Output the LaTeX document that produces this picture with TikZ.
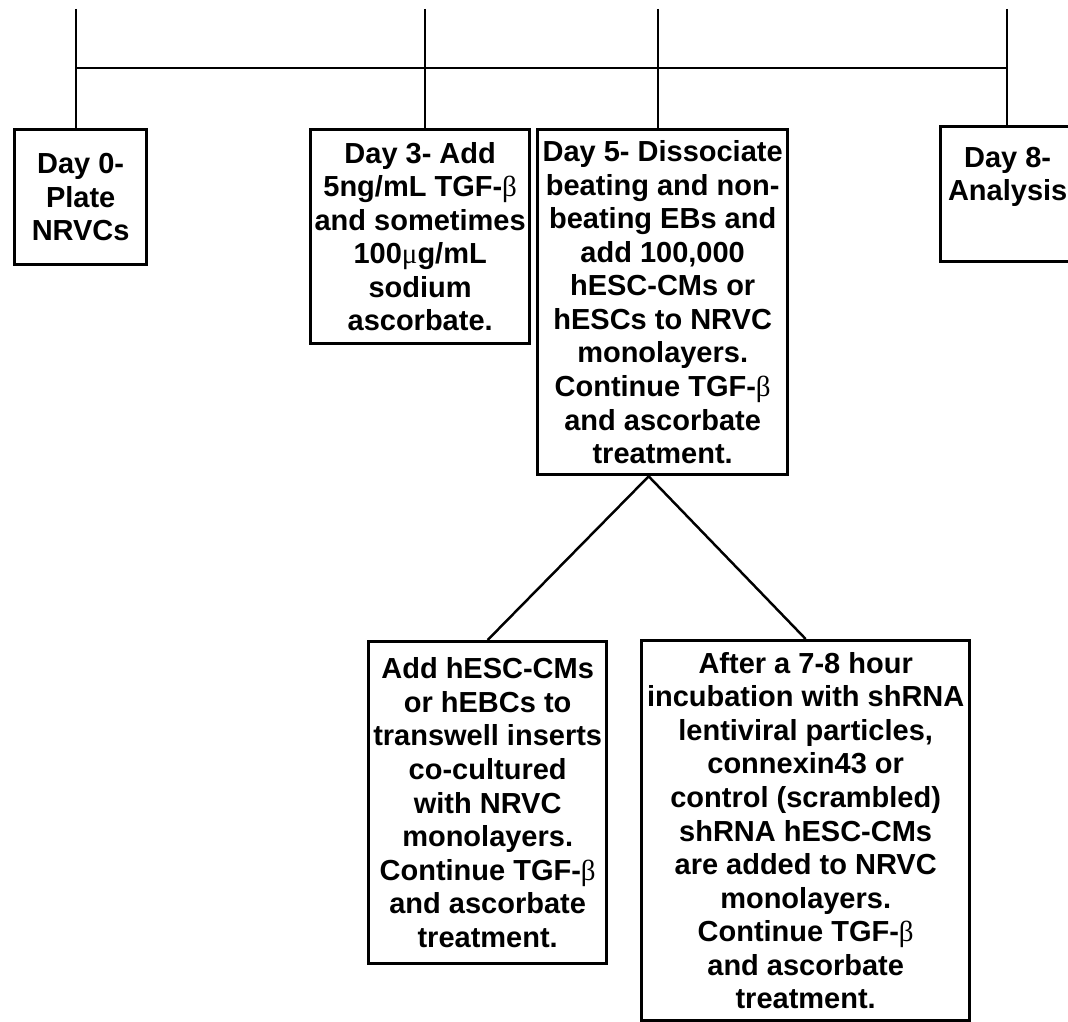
\documentclass[tikz,border=0pt]{standalone}
\usepackage{fontspec}
\setmainfont{Liberation Sans}
\newfontfamily\grkfont{Liberation Serif}
\usepackage{tikz}
\usetikzlibrary{positioning,calc}
\newcommand{\grk}[1]{{\mdseries\grkfont #1}}

\begin{document}
\begin{tikzpicture}[
  every node/.style={font=\fontsize{16.5}{19.1}\selectfont\bfseries},
  stage/.style={draw=black,line width=1.9pt,inner sep=0pt,align=center,
                anchor=north west},
  tick/.style={draw=black,line width=1.6pt},
  branch/.style={draw=black,line width=1.4pt}
]
\useasboundingbox (0,0) rectangle (21.36,-20.44);
\clip (0,0) rectangle (21.36,-20.44);

% day boxes
\node[stage,minimum width=2.64cm,minimum height=2.70cm]
   at (0.26,-2.56) (d0) {Day 0-\\Plate\\NRVCs};
\node[stage,minimum width=4.38cm,minimum height=4.28cm]
   at (6.18,-2.56) (d3)
   {Day 3- Add\\5ng/mL TGF-\grk{β}\\and sometimes\\100\grk{μ}g/mL\\sodium\\ascorbate.};
\node[stage,minimum width=5.00cm,minimum height=6.90cm]
   at (10.72,-2.56) (d5)
   {Day 5- Dissociate\\beating and non-\\beating EBs and\\add 100,000\\hESC-CMs or\\hESCs to NRVC\\monolayers.\\Continue TGF-\grk{β}\\and ascorbate\\treatment.};
\node[stage,minimum width=2.68cm,minimum height=2.70cm]
   at (18.78,-2.50) (d8) {};
\node[anchor=north,align=center,inner sep=0pt]
   at ($(d8.north)+(0,-0.43)$) (d8txt) {Day 8-\\Analysis};

% timeline
\coordinate (t0) at (1.52,-0.18);
\coordinate (t3) at (8.50,-0.18);
\coordinate (t5) at (13.16,-0.18);
\coordinate (t8) at (20.14,-0.18);
\draw[tick] (t0) -- (t0 |- d0.north);
\draw[tick] (t3) -- (t3 |- d3.north);
\draw[tick] (t5) -- (t5 |- d5.north);
\draw[tick] (t8) -- (t8 |- d8.north);
\draw[tick] ($(t0)+(0,-1.18)$) -- ($(t8)+(0,-1.18)$);

% day 5 options
\node[stage,minimum width=4.76cm,minimum height=6.44cm]
   at (7.34,-12.80) (insert)
   {Add hESC-CMs\\or hEBCs to\\transwell inserts\\co-cultured\\with NRVC\\monolayers.\\Continue TGF-\grk{β}\\and ascorbate\\treatment.};
\node[stage,minimum width=6.56cm,minimum height=7.60cm]
   at (12.80,-12.78) (shrna)
   {After a 7-8 hour\\incubation with shRNA\\lentiviral particles,\\connexin43 or\\control (scrambled)\\shRNA hESC-CMs\\are added to NRVC\\monolayers.\\Continue TGF-\grk{β}\\and ascorbate\\treatment.};

\coordinate (fork) at ($(d5.south)+(-0.28,0)$);
\draw[branch] (fork) -- (insert.north);
\draw[branch] (fork) -- (shrna.north);
\end{tikzpicture}
\end{document}
